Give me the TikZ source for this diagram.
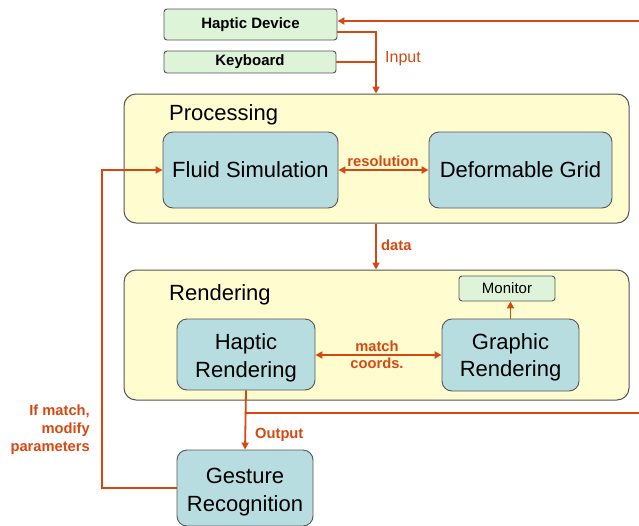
\documentclass[tikz,border=0pt]{standalone}
\usepackage{fontspec}
\setmainfont{Liberation Sans}
\usetikzlibrary{arrows.meta}
\definecolor{redo}{RGB}{214,72,18}
\definecolor{gfill}{RGB}{222,244,216}
\definecolor{bfill}{RGB}{184,221,225}
\definecolor{yfill}{RGB}{255,253,208}
\definecolor{bord}{RGB}{85,85,85}
\tikzset{
  dev/.style={draw=bord, line width=0.9pt, fill=gfill, rounded corners=3pt, inner sep=0pt, font=\fontsize{15}{18}\selectfont\bfseries},
  mon/.style={draw=bord, line width=0.9pt, fill=gfill, rounded corners=3pt, inner sep=0pt, font=\fontsize{15}{18}\selectfont},
  grp/.style={draw=bord, line width=1pt, fill=yfill, rounded corners=12pt, inner sep=0pt},
  proc/.style={draw=bord, line width=0.9pt, fill=bfill, rounded corners=10pt, inner sep=0pt, align=center, font=\fontsize{22}{27.5}\selectfont},
  ptext/.style={align=center, inner sep=0pt, font=\fontsize{22}{27.5}\selectfont},
  ttl/.style={anchor=west, inner sep=0pt, text depth=0pt, font=\fontsize{22}{27}\selectfont},
  lbl/.style={text=redo, inner sep=0pt, font=\fontsize{14.7}{17.5}\selectfont\bfseries},
  wire/.style={draw=redo, line width=1.8pt},
  arr/.style={wire, -{Triangle[length=7pt,width=7pt]}},
  arrb/.style={wire, {Triangle[length=7pt,width=7pt]}-{Triangle[length=7pt,width=7pt]}},
}
\begin{document}
\begin{tikzpicture}[x=1pt,y=-1pt]
\useasboundingbox (0,0) rectangle (639,525);
% nodes
\node[dev, minimum width=173pt, minimum height=31pt] (hd) at (250.5,24.5) {Haptic Device};
\node[dev, minimum width=172pt, minimum height=22pt] (kb) at (250,62) {Keyboard};
\node[grp, minimum width=505pt, minimum height=129pt] (pg) at (376.5,158.5) {};
\node[ttl] (pt) at (169,113) {Processing};
\node[proc, minimum width=175pt, minimum height=76pt] (fs) at (250.5,170) {Fluid Simulation};
\node[proc, minimum width=183pt, minimum height=76pt] (dg) at (520.5,170) {Deformable Grid};
\node[grp, minimum width=505pt, minimum height=130pt] (rg) at (376.5,335) {};
\node[ttl] (rt) at (169,293) {Rendering};
\node[mon, minimum width=96pt, minimum height=25pt] (mo) at (507,288.5) {Monitor};
\node[proc, minimum width=138pt, minimum height=71pt,
  label={[ptext, yshift=-3.5pt]center:Haptic\\Rendering}] (hr) at (246,354.5) {};
\node[proc, minimum width=137pt, minimum height=72pt,
  label={[ptext, yshift=-2.5pt]center:Graphic\\Rendering}] (gr) at (510.5,355) {};
\node[proc, minimum width=136pt, minimum height=76pt,
  label={[ptext, yshift=-4pt]center:Gesture\\Recognition}] (ge) at (245,488) {};
% coordinates
\coordinate (ix) at (376,0);
\coordinate (fx) at (102,0);
\coordinate (r1) at (640,21);
\coordinate (r2) at (640,413);
% connectors
\draw[arr] (r1) -- (hd.east |- r1);
\draw[arr] ([yshift=-7.5pt]hd.east) -| (ix |- pg.north);
\draw[wire] (kb.east) -- (ix |- kb.east);
\node[anchor=west, text=redo, inner sep=0pt, font=\fontsize{16}{19}\selectfont] (il) at (385,58.5) {Input};
\draw[arrb] (fs.east) -- (dg.west);
\node[lbl] (rl) at (383,161) {resolution};
\draw[arr] (ix |- pg.south) -- (ix |- rg.north);
\node[lbl, anchor=west] (dl) at (381,245) {data};
\draw[arrb] (hr.east |- gr.west) -- (gr.west);
\node[lbl, align=center] (ml) at (377,354.5) {match\\coords.};
\draw[arr] (gr.north) -- (gr.north |- mo.south);
\draw[arr] (hr.south) -- (ge.north);
\node[lbl, anchor=west] (ol) at (255,434.5) {Output};
\draw[wire] (hr.south |- r2) -- (r2);
\draw[arr] (ge.west) -| (fx |- fs.west) -- (fs.west);
\node[lbl, align=right, anchor=east, font=\fontsize{14.7}{18}\selectfont\bfseries] (fl) at (90,430) {If match,\\modify\\parameters};
\end{tikzpicture}
\end{document}
